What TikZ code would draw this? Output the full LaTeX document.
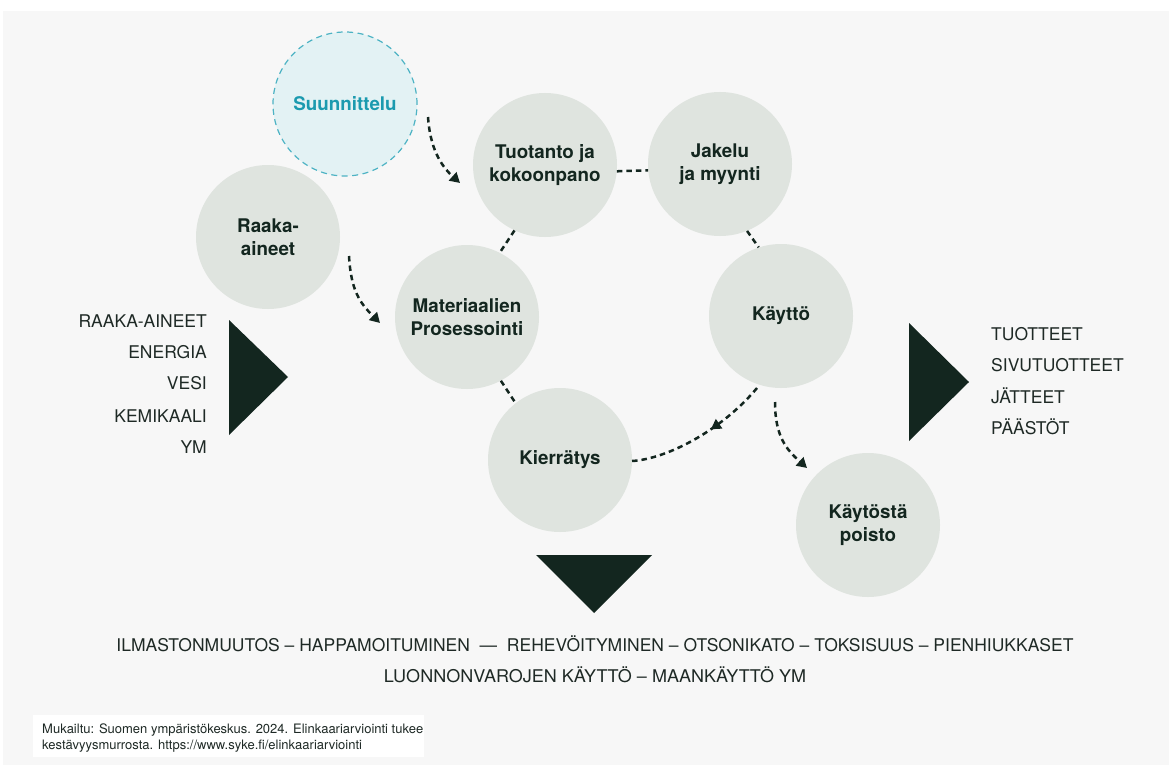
\documentclass[tikz,border=0pt]{standalone}
\usepackage{fontspec}
\setmainfont{TeX Gyre Heros}
\usetikzlibrary{arrows.meta,decorations.markings,calc}
\definecolor{bgpanel}{HTML}{F7F7F7}
\definecolor{circfill}{HTML}{DFE4DF}
\definecolor{darkgreen}{HTML}{13261F}
\definecolor{tealline}{HTML}{4DB3C4}
\definecolor{tealfill}{HTML}{E3F2F4}
\definecolor{tealtext}{HTML}{1B9AAF}
\definecolor{txt}{HTML}{1E2925}
\begin{document}
\begin{tikzpicture}[x=1pt,y=-1pt,
  stage/.style={circle, fill=circfill, minimum size=144pt, inner sep=0pt, align=center, text=darkgreen, font=\bfseries\fontsize{18.8}{23}\selectfont},
  design/.style={stage, fill=tealfill, draw=tealline, line width=1.2pt, dash pattern=on 6pt off 4.5pt, text=tealtext},
  link/.style={draw=darkgreen, line width=2.5pt, dash pattern=on 5.5pt off 4pt},
  flow/.style={link, -{Triangle[length=10pt,width=11pt]}},
  listtxt/.style={inner sep=0pt, text=txt, font=\fontsize{17.5}{20}\selectfont, text height=12.6pt, text depth=0pt},
  tri/.style={fill=darkgreen}
]
\useasboundingbox (0,0) rectangle (1169,765);
\fill[white] (0,0) rectangle (1169,765);
\fill[bgpanel] (3,11) rectangle (1169,765);

% stages
\node[design] (suun) at (345,104) {Suunnittelu};
\node[stage] (raaka) at (268,237) {Raaka-\\aineet};
\node[stage] (tuot) at (545,165) {Tuotanto ja\\kokoonpano};
\node[stage] (jakelu) at (720,164) {Jakelu\\ja myynti};
\node[stage] (mat) at (467,317) {Materiaalien\\Prosessointi};
\node[stage] (kaytto) at (781,316) {Käyttö};
\node[stage] (kierr) at (560,460) {Kierrätys};
\node[stage] (poisto) at (868,525) {Käytöstä\\poisto};

% links between stages
\draw[link] (tuot.-5) -- (jakelu.185);
\draw[link] (tuot.245) -- (mat.63);
\draw[link] (jakelu.-68) -- (kaytto.108);
\draw[link] (mat.-62) -- (kierr.128);

% flows
\draw[flow] ($(suun)+(83,13)$) .. controls +(2,30) and +(-20,-18) .. ($(tuot)+(-85,18)$);
\draw[flow] ($(raaka)+(81,19)$) .. controls +(2,35) and +(-20,-20) .. ($(mat)+(-87,6)$);
\draw[flow] ($(kaytto)+(-6,86)$) .. controls +(0,35) and +(-20,-18) .. ($(poisto)+(-61,-57)$);
\draw[link, postaction={decorate}, decoration={markings, mark=at position 0.42 with {\arrow{Triangle[length=10pt,width=11pt]}}}]
  ($(kaytto)+(-24,72)$) .. controls +(-35,42) and +(35,-2) .. ($(kierr)+(72,1)$);

% triangles
\fill[tri] (229,320) -- (229,435) -- (288,377) -- cycle;
\fill[tri] (909,323) -- (909,441) -- (969,382) -- cycle;
\fill[tri] (536,555) -- (652,555) -- (594,613) -- cycle;

% input list
\node[listtxt, anchor=east] (in1) at (207,321) {RAAKA-AINEET};
\node[listtxt, anchor=east] (in2) at (207,352) {ENERGIA};
\node[listtxt, anchor=east] (in3) at (207,383) {VESI};
\node[listtxt, anchor=east] (in4) at (207,416) {KEMIKAALI};
\node[listtxt, anchor=east] (in5) at (207,447) {YM};

% output list
\node[listtxt, anchor=west] (out1) at (991,334) {TUOTTEET};
\node[listtxt, anchor=west] (out2) at (991,365) {SIVUTUOTTEET};
\node[listtxt, anchor=west] (out3) at (991,397) {JÄTTEET};
\node[listtxt, anchor=west] (out4) at (991,428) {PÄÄSTÖT};

% impacts
\node[listtxt] (imp1) at (595,645) {ILMASTONMUUTOS – HAPPAMOITUMINEN\ \ —\ \ REHEVÖITYMINEN – OTSONIKATO – TOKSISUUS – PIENHIUKKASET};
\node[listtxt] (imp2) at (595,676) {\scalebox{1.03}[1]{LUONNONVAROJEN KÄYTTÖ – MAANKÄYTTÖ YM}};

% source
\fill[white] (33,715) rectangle (424,757);
\node[anchor=north west, align=left, inner sep=0pt, text=txt, font=\fontsize{13}{15.5}\selectfont] (src) at (42,724)
  {Mukailtu: Suomen ympäristökeskus. 2024. Elinkaariarviointi tukee\\kestävyysmurrosta. https://www.syke.fi/elinkaariarviointi};
\end{tikzpicture}
\end{document}
